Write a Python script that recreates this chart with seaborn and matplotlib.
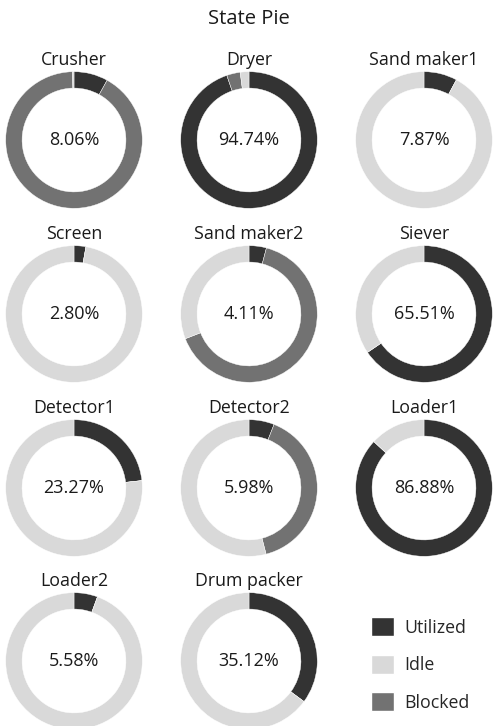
import matplotlib
matplotlib.use("Agg")
import matplotlib.pyplot as plt
from matplotlib.patches import Patch
import seaborn as sns

sns.set_theme(style="white")
plt.rcParams['font.family'] = ['Open Sans', 'DejaVu Sans']

machines = ["Crusher", "Dryer", "Sand maker1", "Screen", "Sand maker2", "Siever",
            "Detector1", "Detector2", "Loader1", "Loader2", "Drum packer"]
utilized = [8.06, 94.74, 7.87, 2.80, 4.11, 65.51, 23.27, 5.98, 86.88, 5.58, 35.12]
blocked = [91.60, 3.20, 0.0, 0.0, 65.00, 0.0, 0.0, 40.00, 0.0, 0.0, 0.0]
idle = [0.34, 2.06, 92.13, 97.20, 30.89, 34.49, 76.73, 54.02, 13.12, 94.42, 64.88]
states = ["Utilized", "Idle", "Blocked"]
palette = sns.color_palette(["#333333", "#d9d9d9", "#727272"])
col_util, col_idle, col_block = palette

W, H = 498, 726
fig = plt.figure(figsize=(W / 100, H / 100), dpi=100)
fig.text(0.5, 1 - 19 / H, "State Pie", ha="center", va="center", fontsize=14.5, color="#1a1a1a")

col_x = [74, 249, 424]
row_y = [140, 314, 488, 661]
R = 69

for i, name in enumerate(machines):
    r, c = divmod(i, 3)
    cx, cy = col_x[c], row_y[r]
    ax = fig.add_axes([(cx - R) / W, 1 - (cy + R) / H, 2 * R / W, 2 * R / H])
    vals = [utilized[i], blocked[i], idle[i]]
    cols = [col_util, col_block, col_idle]
    ax.pie(vals, colors=cols, startangle=90, counterclock=False,
           wedgeprops=dict(width=0.24, edgecolor="white", linewidth=0.3))
    ax.set_xlim(-1.01, 1.01)
    ax.set_ylim(-1.01, 1.01)
    ax.set_aspect("equal")
    ax.text(0, 0, f"{utilized[i]:.2f}%", ha="center", va="center", fontsize=13, color="#1a1a1a")
    fig.text(cx / W, 1 - (cy - 80) / H, name, ha="center", va="center", fontsize=12.8, color="#1a1a1a")

handles = [Patch(facecolor=col_util), Patch(facecolor=col_idle), Patch(facecolor=col_block)]
fig.legend(handles, states, loc="upper left", bbox_to_anchor=(364 / W, 1 - 610 / H),
           frameon=False, fontsize=12.8, handlelength=1.3, handleheight=1.3,
           labelspacing=1.0, handletextpad=0.55, borderaxespad=0)

fig.savefig("out.png", dpi=100)
